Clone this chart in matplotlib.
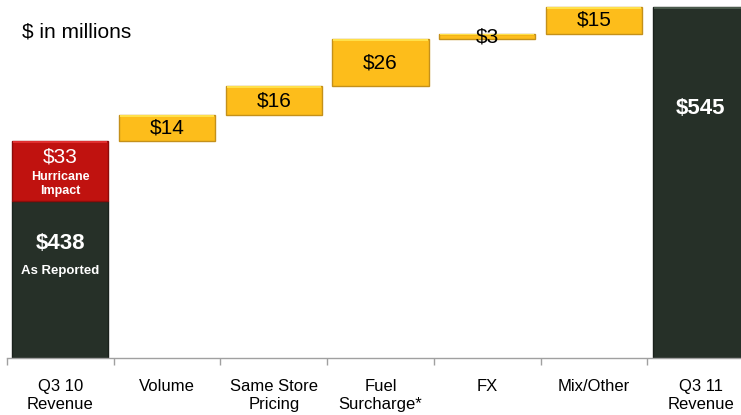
import matplotlib.pyplot as plt
import numpy as np

plt.rcParams['font.family'] = ['Liberation Sans', 'DejaVu Sans']

# data
categories = ['Q3 10\nRevenue', 'Volume', 'Same Store\nPricing', 'Fuel\nSurcharge*',
              'FX', 'Mix/Other', 'Q3 11\nRevenue']
start_value = 438
hurricane = 33
changes = [14, 16, 26, 3, 15]
end_value = 545
change_labels = ['$14', '$16', '$26', '$3', '$15']

axis_floor = 351   # truncated y axis
px_per_unit = 1.81

dark = '#263028'
dark_edge = '#1a211c'
red = '#c0120f'
red_edge = '#8c0c0a'
gold = '#fdbd1b'
gold_edge = '#c4901a'

W, H = 741, 415
fig = plt.figure(figsize=(W / 100, H / 100), dpi=100)
# axes in pixel layout: x from 7 to 754, baseline at 358 px from top
ax = fig.add_axes([7 / W, (H - 358) / H, 747 / W, 358 / H])
ax.set_xlim(-0.5, 6.5)
ax.set_ylim(axis_floor, axis_floor + 358 / px_per_unit)

bw = 0.9
x = np.arange(len(categories))

# first column: as reported + hurricane impact
ax.bar(x[0], start_value - axis_floor, bottom=axis_floor, width=bw,
       color=dark, edgecolor=dark_edge, linewidth=1)
ax.bar(x[0], hurricane, bottom=start_value, width=bw,
       color=red, edgecolor=red_edge, linewidth=1)

# floating change bars
level = start_value + hurricane
for i, (c, lab) in enumerate(zip(changes, change_labels)):
    ax.bar(x[i + 1], c, bottom=level, width=bw, color=gold,
           edgecolor=gold_edge, linewidth=1)
    # highlight strip
    hl = min(c * 0.12, 1.0)
    ax.bar(x[i + 1], hl, bottom=level + c - hl,
           width=bw * 0.98, color='#ffe04a', linewidth=0)
    ax.text(x[i + 1], level + c / 2, lab, ha='center', va='center',
            fontsize=15, color='black')
    level += c

# final column
ax.bar(x[6], end_value - axis_floor, bottom=axis_floor, width=bw,
       color=dark, edgecolor=dark_edge, linewidth=1)
ax.bar(x[6], 1.2, bottom=end_value - 1.2, width=bw * 0.98, color='#4a5a4c', linewidth=0)
ax.bar(x[0], 1.0, bottom=start_value + hurricane - 1.0, width=bw * 0.98,
       color='#e03030', linewidth=0)

# labels inside bars
ax.text(x[0], 462, '$33', ha='center', va='center', fontsize=15, color='white')
ax.text(x[0], 451, 'Hurricane', ha='center', va='center', fontsize=9,
        color='white', fontweight='bold')
ax.text(x[0], 443.3, 'Impact', ha='center', va='center', fontsize=9,
        color='white', fontweight='bold')
ax.text(x[0], 414.5, '$438', ha='center', va='center', fontsize=16,
        color='white', fontweight='bold')
ax.text(x[0], 399, 'As Reported', ha='center', va='center', fontsize=9.5,
        color='white', fontweight='bold')
ax.text(x[6], 489, '$545', ha='center', va='center', fontsize=16,
        color='white', fontweight='bold')

fig.text(22 / W, 1 - 32 / H, '$ in millions', ha='left', va='center', fontsize=15)

# axes styling
for s in ['top', 'right', 'left']:
    ax.spines[s].set_visible(False)
ax.spines['bottom'].set_color('#a0a0a0')
ax.spines['bottom'].set_linewidth(1)
ax.set_yticks([])
ax.set_xticks(x)
ax.set_xticklabels(categories, fontsize=12, linespacing=1.25)
ax.tick_params(axis='x', which='major', length=0, pad=15)
ax.set_xticks(np.arange(-0.5, 6.6, 1.0), minor=True)
ax.tick_params(axis='x', which='minor', length=5, color='#a0a0a0', width=1)

fig.savefig('out.png', dpi=100)
